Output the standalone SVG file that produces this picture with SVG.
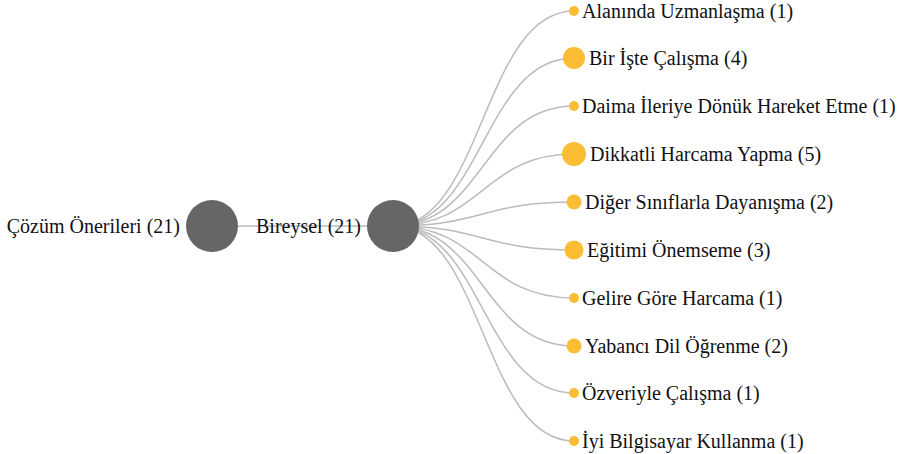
<svg xmlns="http://www.w3.org/2000/svg" width="908" height="454" viewBox="0 0 908 454">
<style>
.l{fill:none;stroke:#bbb;stroke-width:1.5}
.i{fill:#666}
.f{fill:#fbbd33}
text{font-family:"Liberation Serif","Times New Roman",serif;font-size:20px;fill:#111;dominant-baseline:central}
</style>
<rect width="908" height="454" fill="#fff"/>
<g id="links">
<path class="l" d="M212,226H393"/>
<path class="l" d="M393,226C483,226 483,11 574,11"/>
<path class="l" d="M393,226C483,226 483,58 574,58"/>
<path class="l" d="M393,226C483,226 483,106 574,106"/>
<path class="l" d="M393,226C483,226 483,154 574,154"/>
<path class="l" d="M393,226C483,226 483,202 574,202"/>
<path class="l" d="M393,226C483,226 483,250 574,250"/>
<path class="l" d="M393,226C483,226 483,298 574,298"/>
<path class="l" d="M393,226C483,226 483,346 574,346"/>
<path class="l" d="M393,226C483,226 483,393 574,393"/>
<path class="l" d="M393,226C483,226 483,441 574,441"/>
</g>
<g id="root"><circle class="i" cx="212" cy="226" r="26"/><text x="180" y="226" text-anchor="end">Çözüm Önerileri (21)</text></g>
<g id="bireysel"><circle class="i" cx="393" cy="226" r="26"/><text x="361" y="226" text-anchor="end">Bireysel (21)</text></g>
<g id="n1"><circle class="f" cx="574" cy="11" r="5"/><text x="582" y="11">Alanında Uzmanlaşma (1)</text></g>
<g id="n2"><circle class="f" cx="574" cy="58" r="11"/><text x="589" y="58">Bir İşte Çalışma (4)</text></g>
<g id="n3"><circle class="f" cx="574" cy="106" r="5"/><text x="582" y="106">Daima İleriye Dönük Hareket Etme (1)</text></g>
<g id="n4"><circle class="f" cx="574" cy="154" r="12"/><text x="590" y="154">Dikkatli Harcama Yapma (5)</text></g>
<g id="n5"><circle class="f" cx="574" cy="202" r="7.5"/><text x="585" y="202">Diğer Sınıflarla Dayanışma (2)</text></g>
<g id="n6"><circle class="f" cx="574" cy="250" r="9.5"/><text x="587" y="250">Eğitimi Önemseme (3)</text></g>
<g id="n7"><circle class="f" cx="574" cy="298" r="5"/><text x="582" y="298">Gelire Göre Harcama (1)</text></g>
<g id="n8"><circle class="f" cx="574" cy="346" r="7.5"/><text x="585" y="346">Yabancı Dil Öğrenme (2)</text></g>
<g id="n9"><circle class="f" cx="574" cy="393" r="5"/><text x="582" y="393">Özveriyle Çalışma (1)</text></g>
<g id="n10"><circle class="f" cx="574" cy="441" r="5"/><text x="582" y="441">İyi Bilgisayar Kullanma (1)</text></g>
</svg>
